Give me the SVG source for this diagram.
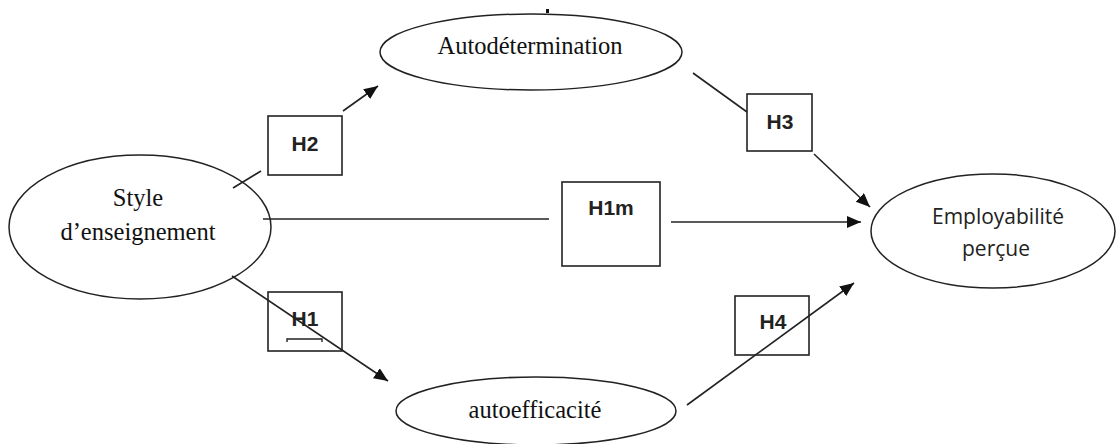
<svg xmlns="http://www.w3.org/2000/svg" width="1116" height="444" viewBox="0 0 1116 444">
<style>
.node ellipse{fill:#fff;stroke:#222;stroke-width:1.5}
.box rect{fill:none;stroke:#222;stroke-width:1.6}
.serif{font-family:"Liberation Serif","Times New Roman",serif;font-size:24.5px;fill:#111;text-anchor:middle}
.sans{font-family:"Open Sans","Liberation Sans",sans-serif;font-size:21px;fill:#222;text-anchor:middle}
.hl{font-family:"Liberation Sans",Arial,sans-serif;font-weight:bold;font-size:21px;fill:#222;text-anchor:middle}
.conn line,.conn polyline{stroke:#222;stroke-width:1.6;fill:none}
</style>
<defs>
<marker id="arr" markerUnits="userSpaceOnUse" markerWidth="16" markerHeight="14" refX="14" refY="6" orient="auto">
<path d="M0,0 L14,6 L0,12 Z" fill="#111"/>
</marker>
</defs>
<rect width="1116" height="444" fill="#fff"/>
<g id="style" class="node">
<ellipse cx="140" cy="227" rx="131" ry="72"/>
<text class="serif" x="138" y="206">Style</text>
<text class="serif" x="138" y="240">d’enseignement</text>
</g>
<g id="autodetermination" class="node">
<ellipse cx="531" cy="52" rx="151" ry="38"/>
<text class="serif" x="530" y="54">Autodétermination</text>
<rect x="546" y="9" width="3" height="4" fill="#111"/>
</g>
<g id="autoefficacite" class="node">
<ellipse cx="536" cy="411" rx="140" ry="34"/>
<text class="serif" x="535" y="418">autoefficacité</text>
</g>
<g id="employabilite" class="node">
<ellipse cx="993" cy="231" rx="122" ry="57"/>
<text class="sans" x="998" y="224" textLength="132" lengthAdjust="spacingAndGlyphs">Employabilité</text>
<text class="sans" x="996" y="256">perçue</text>
</g>
<g id="h2" class="box">
<rect x="268" y="116" width="74" height="59"/>
<text class="hl" x="305" y="151">H2</text>
</g>
<g id="h3" class="box">
<rect x="747" y="94" width="65" height="57"/>
<text class="hl" x="780" y="129">H3</text>
</g>
<g id="h1m" class="box">
<rect x="562" y="182" width="98" height="84"/>
<text class="hl" x="611" y="215">H1m</text>
</g>
<g id="h1" class="box">
<rect x="268" y="292" width="74" height="59"/>
<text class="hl" x="305" y="326">H1</text>
<polyline points="287,342 287,339 322,339 322,342" style="stroke:#222;stroke-width:1.4;fill:none"/>
</g>
<g id="h4" class="box">
<rect x="735" y="296" width="74" height="59"/>
<text class="hl" x="773" y="329">H4</text>
</g>
<g class="conn" id="connectors">
<line x1="233" y1="188" x2="261" y2="171"/>
<line x1="343" y1="111" x2="378" y2="86" marker-end="url(#arr)"/>
<line x1="693" y1="73" x2="747" y2="112"/>
<line x1="814" y1="154" x2="870" y2="207" marker-end="url(#arr)"/>
<line x1="263" y1="219" x2="549" y2="219"/>
<line x1="671" y1="222" x2="861" y2="222" marker-end="url(#arr)"/>
<line x1="232" y1="276" x2="388" y2="381" marker-end="url(#arr)"/>
<line x1="687" y1="405" x2="854" y2="283" marker-end="url(#arr)"/>
</g>
</svg>
